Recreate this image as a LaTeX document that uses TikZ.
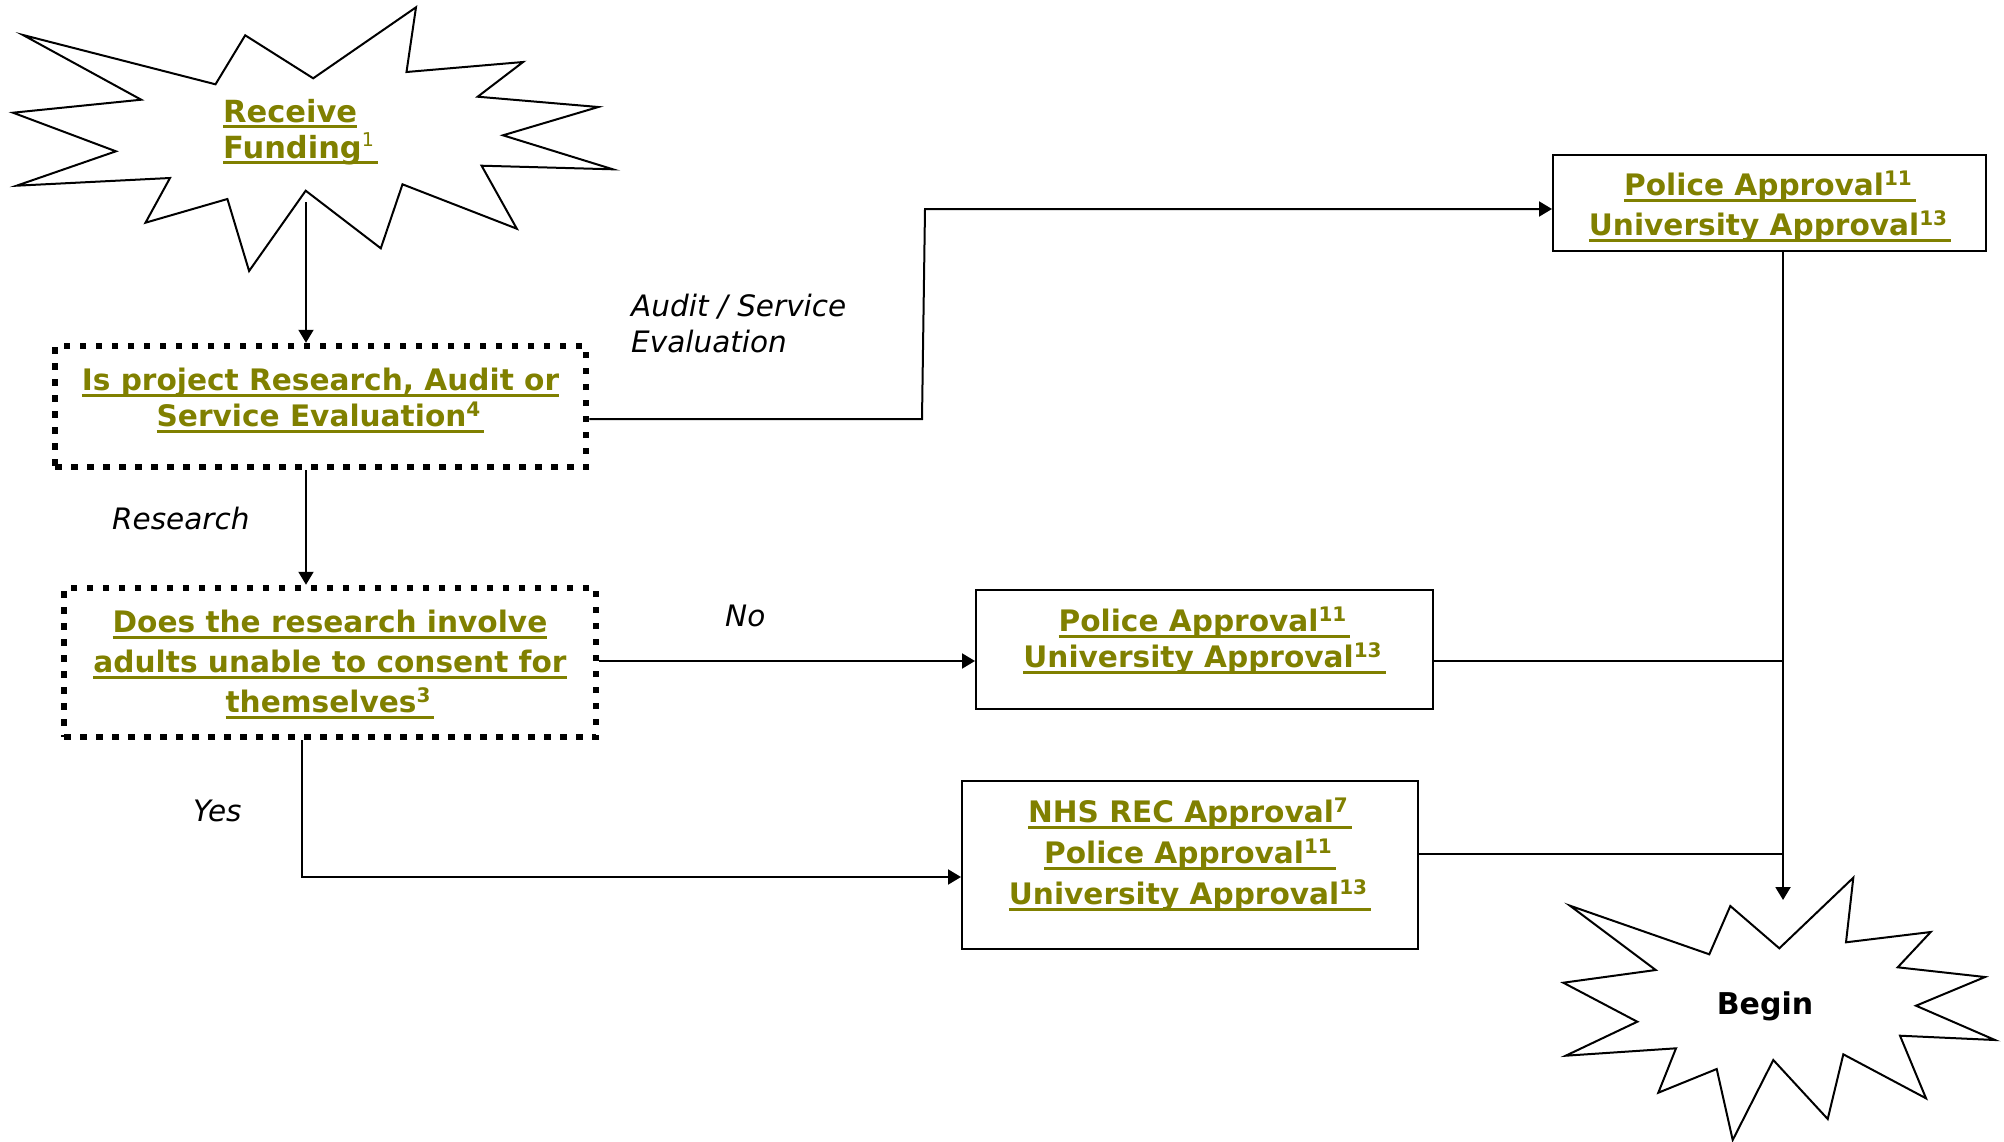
\documentclass[tikz,border=0pt]{standalone}
\usepackage{fontspec}
\setmainfont{DejaVu Sans}
\usetikzlibrary{arrows.meta}
\definecolor{olivetxt}{RGB}{128,128,0}
\newsavebox\ulbox
\newcommand\ulx[1]{\sbox\ulbox{#1}\rlap{\rule[-6pt]{\wd\ulbox}{3pt}}\usebox\ulbox}
\newcommand\sups[1]{\raisebox{10pt}{\fontsize{20}{20}\selectfont\bfseries #1}\kern4pt}
\newcommand\supthin[1]{\raisebox{12pt}{\fontsize{19}{19}\selectfont\mdseries #1}\kern4pt}
\tikzset{
  ln/.style={line width=2pt, draw=black},
  arr/.style={ln, -{Triangle[length=13pt,width=15pt]}},
  star/.style={line width=2pt, draw=black, fill=white, line join=miter},
  solidbox/.style={draw=black, line width=2pt, inner sep=0pt},
  dotbox/.style={draw=black, line width=6.5pt, dash pattern=on 6.5pt off 9.5pt, inner sep=0pt},
  btxt/.style={text=olivetxt, inner sep=0pt, font=\fontsize{29.6}{#1}\selectfont\bfseries, align=center},
  btxt/.default=36,
  itxt/.style={text=black, inner sep=0pt, font=\fontsize{29.5}{36}\selectfont\itshape, align=left}
}
\begin{document}
\begin{tikzpicture}[x=1pt,y=-1pt]
\useasboundingbox (0,0) rectangle (2004,1141);
% starbursts
\draw[star] (23,35) -- (215.5,84.3) -- (245.2,35.3) -- (313.2,78.3) -- (416,7.3) -- (406.5,72) -- (523.1,62) -- (477.7,96.7) -- (598.3,107) -- (503,135.3) -- (612.9,169.3) -- (481.6,165.7) -- (516.8,228.7) -- (402.5,184.3) -- (380.8,248.3) -- (305.7,190.7) -- (249.1,271) -- (227.4,199) -- (145.5,222.7) -- (170,178) -- (16.6,185.7) -- (115.9,151.3) -- (13,112.7) -- (141.2,99.7) -- cycle;
\draw[star] (1570,905.7) -- (1709.3,954.3) -- (1730.3,906) -- (1779.3,948.3) -- (1853.3,877.7) -- (1846,942.3) -- (1930.7,932) -- (1897.7,967.3) -- (1985,977) -- (1916,1005.7) -- (1995,1040) -- (1900,1035.7) -- (1926,1098.3) -- (1843.3,1054.3) -- (1827.7,1119) -- (1773.3,1060) -- (1732.7,1140) -- (1716.7,1069) -- (1658.3,1092.7) -- (1676,1048.3) -- (1565.7,1055.7) -- (1637.3,1021.7) -- (1563.3,982.7) -- (1655.7,970) -- cycle;
\node[btxt, align=left, anchor=west, font=\fontsize{30.5}{36}\selectfont\bfseries] (fundtxt) at (223,132) {\ulx{Receive}\\\ulx{Funding\supthin{1}}};
\node[inner sep=0pt, font=\fontsize{30}{36}\selectfont\bfseries, anchor=base] (begintxt) at (1765,1014) {Begin};
% boxes
\node[dotbox, minimum width=531pt, minimum height=121pt] (q1) at (320.5,406.5) {};
\node[btxt] (q1txt) at (320.5,400.5) {\ulx{Is project Research, Audit or}\\\ulx{Service Evaluation\sups{4}}};
\node[dotbox, minimum width=532pt, minimum height=149pt] (q2) at (330,662.5) {};
\node[btxt=40] (q2txt) at (330,664.5) {\ulx{Does the research involve}\\\ulx{adults unable to consent for}\\\ulx{themselves\sups{3}}};
\node[solidbox, minimum width=433pt, minimum height=96pt] (a4) at (1769.5,203) {};
\node[btxt=40] (a4txt) at (1770,206.5) {\ulx{Police Approval\sups{11}}\\\ulx{University Approval\sups{13}}};
\node[solidbox, minimum width=457pt, minimum height=119pt] (a3) at (1204.5,649.5) {};
\node[btxt] (a3txt) at (1204.5,640.5) {\ulx{Police Approval\sups{11}}\\\ulx{University Approval\sups{13}}};
\node[solidbox, minimum width=456pt, minimum height=168pt] (a5) at (1190,865) {};
\node[btxt=41] (a5txt) at (1190,854.5) {\ulx{NHS REC Approval\sups{7}}\\\ulx{Police Approval\sups{11}}\\\ulx{University Approval\sups{13}}};
% labels
\node[itxt, anchor=west] (lblaudit) at (631,323.5) {Audit / Service\\Evaluation};
\node[itxt, anchor=base west] (lblres) at (112,529) {Research};
\node[itxt, anchor=base west] (lblno) at (725,626) {No};
\node[itxt, anchor=base west] (lblyes) at (193,821) {Yes};
% coordinates
\coordinate (fundbot) at (306,202);
\coordinate (begintop) at (1783,900);
\coordinate (audY) at (0,419);
\coordinate (bend1) at (922,419);
\coordinate (bend2) at (925,209);
\coordinate (noY) at (0,661);
\coordinate (yesBend) at (302,877);
\coordinate (nhsY) at (0,854);
% connectors
\draw[arr] (fundbot) -- (fundbot |- q1.north);
\draw[arr] (q1.south -| fundbot) -- (q2.north -| fundbot);
\draw[arr] (q1.east |- audY) -- (bend1) -- (bend2) -- (a4.west |- bend2);
\draw[arr] (q2.east |- noY) -- (a3.west |- noY);
\draw[arr] (q2.south -| yesBend) -- (yesBend) -- (a5.west |- yesBend);
\draw[arr] (a4.south -| begintop) -- (begintop);
\draw[ln] (a3.east |- noY) -- (begintop |- noY);
\draw[ln] (a5.east |- nhsY) -- (begintop |- nhsY);
\end{tikzpicture}
\end{document}
